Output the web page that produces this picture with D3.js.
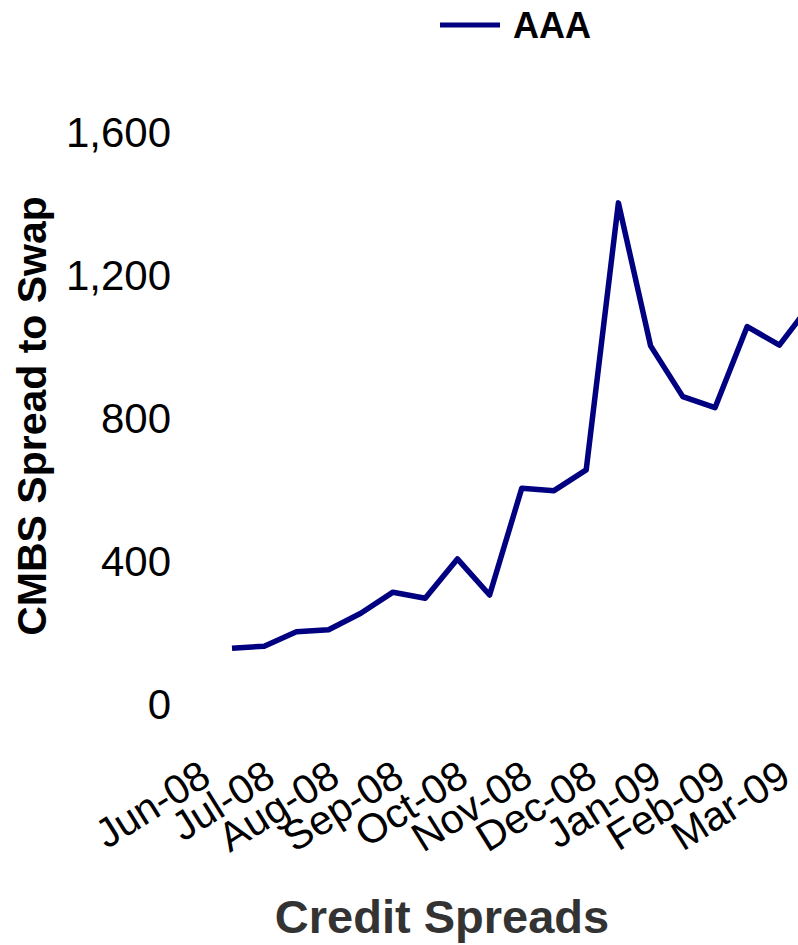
<!DOCTYPE html>
<html>
<head>
<meta charset="utf-8">
<script src="https://cdn.jsdelivr.net/npm/d3@7"></script>
<style>
    body { margin: 0; background: #fff; }
    svg { display: block; font-family: "Liberation Sans", Arial, sans-serif; }
</style>
</head>
<body>
<div id="chart"></div>
<script>
// AAA CMBS spread to swap, two readings per month
var aaaSpread = [153, 159, 199, 205, 251, 310, 293, 403, 302, 601, 594, 652, 1399, 999, 857, 826, 1053, 1001, 1119];
var monthLabels = ["Jun-08", "Jul-08", "Aug-08", "Sep-08", "Oct-08", "Nov-08", "Dec-08", "Jan-09", "Feb-09", "Mar-09"];
var yTicks = [0, 400, 800, 1200, 1600];
var seriesName = "AAA";

var w = 798, h = 945;

var svg = d3.select("#chart").append("svg")
    .attr("width", w)
    .attr("height", h);

// scales
var xScale = d3.scaleLinear()
    .domain([0, aaaSpread.length - 1])
    .range([232, 232 + 32.2 * (aaaSpread.length - 1)]);

var yScale = d3.scaleLinear()
    .domain([0, 1600])
    .range([703, 131]);

// left axis, labels only
var yAxis = svg.append("g")
    .attr("class", "y-axis")
    .attr("transform", "translate(171,0)")
    .call(d3.axisLeft(yScale).tickValues(yTicks).tickSize(0).tickPadding(0).tickFormat(d3.format(",")));

yAxis.select(".domain").remove();
yAxis.selectAll("text")
    .style("font-family", "Liberation Sans, Arial, sans-serif")
    .style("font-size", "42px")
    .style("fill", "#000")
    .attr("dy", "0.36em");

// bottom axis: one label per month (every second reading)
var monthPos = monthLabels.map((d, i) => i * 2 - 0.6);
var xAxis = svg.append("g")
    .attr("class", "x-axis")
    .attr("transform", "translate(0,783)")
    .call(d3.axisBottom(xScale).tickValues(monthPos).tickSize(0).tickPadding(0)
        .tickFormat((d, i) => monthLabels[i]));

xAxis.select(".domain").remove();
xAxis.selectAll("text")
    .style("font-family", "Liberation Sans, Arial, sans-serif")
    .style("font-size", "41px")
    .style("fill", "#000")
    .attr("text-anchor", "end")
    .attr("y", 0)
    .attr("dy", 0)
    .attr("transform", "rotate(-32)");

// the line
var line = d3.line()
    .x((d, i) => xScale(i))
    .y(d => yScale(d));

svg.append("path")
    .datum(aaaSpread)
    .attr("class", "line aaa")
    .style("fill", "none")
    .style("stroke", "#000080")
    .style("stroke-width", 5.5)
    .style("stroke-linejoin", "round")
    .attr("d", line);

// legend
var legend = svg.append("g")
    .attr("class", "legend")
    .attr("transform", "translate(440,25)");

legend.append("line")
    .attr("x1", 0)
    .attr("x2", 60)
    .attr("y1", 0)
    .attr("y2", 0)
    .style("stroke", "#000080")
    .style("stroke-width", 5);

legend.append("text")
    .attr("x", 73)
    .attr("y", 13)
    .style("font-size", "36px")
    .style("font-weight", "bold")
    .style("fill", "#000")
    .text(seriesName);

// axis titles
svg.append("text")
    .attr("class", "y label")
    .attr("text-anchor", "middle")
    .attr("transform", "translate(46,416) rotate(-90)")
    .style("font-size", "41px")
    .style("font-weight", "bold")
    .style("fill", "#000")
    .text("CMBS Spread to Swap");

svg.append("text")
    .attr("class", "x label")
    .attr("text-anchor", "middle")
    .attr("x", 442)
    .attr("y", 933)
    .style("font-size", "47px")
    .style("font-weight", "bold")
    .style("fill", "#333")
    .text("Credit Spreads");
</script>
</body>
</html>
